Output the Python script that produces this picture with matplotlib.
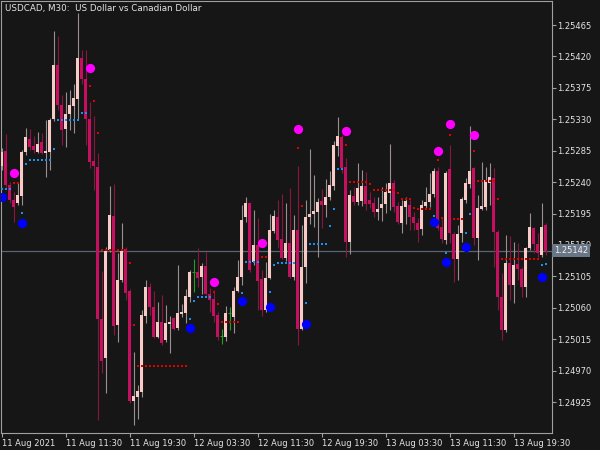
import numpy as np
import matplotlib.pyplot as plt

# USDCAD M30 bars, 11 Aug 03:30 -> 13 Aug 2021
opens = [1.25263, 1.25285, 1.25236, 1.25214, 1.25210, 1.25220, 1.25283, 1.25302, 1.25292, 1.25283,
         1.25297, 1.25282, 1.25283, 1.25330, 1.25408, 1.25350, 1.25316, 1.25337, 1.25349, 1.25359,
         1.25418, 1.25388, 1.25330, 1.25270, 1.25262, 1.25044, 1.24988, 1.25143, 1.25191, 1.25035,
         1.25100, 1.25144, 1.25084, 1.24927, 1.24932, 1.24939, 1.25048, 1.25090, 1.25061, 1.25018,
         1.25040, 1.25014, 1.25037, 1.25045, 1.25031, 1.25051, 1.25053, 1.25075, 1.25111, 1.25111,
         1.25104, 1.25120, 1.25080, 1.25073, 1.25050, 1.25020, 1.25018, 1.25053, 1.25047, 1.25084,
         1.25104, 1.25190, 1.25210, 1.25126, 1.25150, 1.25101, 1.25057, 1.25103, 1.25170, 1.25190,
         1.25158, 1.25131, 1.25153, 1.25104, 1.25171, 1.25030, 1.25118, 1.25190, 1.25194, 1.25197,
         1.25213, 1.25207, 1.25219, 1.25234, 1.25292, 1.25305, 1.25262, 1.25154, 1.25220, 1.25211,
         1.25213, 1.25234, 1.25214, 1.25210, 1.25197, 1.25203, 1.25209, 1.25224, 1.25239, 1.25206,
         1.25181, 1.25204, 1.25207, 1.25190, 1.25181, 1.25173, 1.25206, 1.25211, 1.25223, 1.25256,
         1.25176, 1.25157, 1.25259, 1.25166, 1.25130, 1.25167, 1.25214, 1.25237, 1.25260, 1.25160,
         1.25201, 1.25204, 1.25239, 1.25246, 1.25169, 1.25075, 1.25028, 1.25124, 1.25093, 1.25123,
         1.25116, 1.25090, 1.25146, 1.25174, 1.25151, 1.25136, 1.25179]
highs = [1.25289, 1.25309, 1.25240, 1.25226, 1.25240, 1.25286, 1.25317, 1.25316, 1.25306, 1.25312,
         1.25310, 1.25329, 1.25332, 1.25456, 1.25449, 1.25365, 1.25369, 1.25372, 1.25380, 1.25482,
         1.25429, 1.25429, 1.25355, 1.25335, 1.25282, 1.25113, 1.25147, 1.25234, 1.25237, 1.25138,
         1.25181, 1.25147, 1.25087, 1.24997, 1.24949, 1.25057, 1.25100, 1.25096, 1.25084, 1.25068,
         1.25078, 1.25064, 1.25048, 1.25047, 1.25121, 1.25065, 1.25087, 1.25114, 1.25130, 1.25146,
         1.25124, 1.25140, 1.25088, 1.25085, 1.25054, 1.25030, 1.25063, 1.25061, 1.25090, 1.25128,
         1.25207, 1.25219, 1.25211, 1.25200, 1.25189, 1.25114, 1.25126, 1.25194, 1.25200, 1.25214,
         1.25223, 1.25210, 1.25231, 1.25193, 1.25263, 1.25179, 1.25214, 1.25287, 1.25250, 1.25217,
         1.25230, 1.25244, 1.25256, 1.25299, 1.25333, 1.25307, 1.25275, 1.25229, 1.25233, 1.25267,
         1.25257, 1.25254, 1.25226, 1.25219, 1.25219, 1.25233, 1.25239, 1.25295, 1.25243, 1.25211,
         1.25214, 1.25219, 1.25214, 1.25197, 1.25189, 1.25214, 1.25233, 1.25253, 1.25260, 1.25262,
         1.25189, 1.25256, 1.25293, 1.25169, 1.25179, 1.25219, 1.25246, 1.25320, 1.25262, 1.25221,
         1.25269, 1.25262, 1.25267, 1.25260, 1.25171, 1.25110, 1.25164, 1.25163, 1.25154, 1.25153,
         1.25118, 1.25147, 1.25196, 1.25176, 1.25167, 1.25210, 1.25181]
lows = [1.25257, 1.25233, 1.25210, 1.25183, 1.25207, 1.25207, 1.25279, 1.25286, 1.25282, 1.25282,
        1.25280, 1.25247, 1.25257, 1.25327, 1.25343, 1.25293, 1.25290, 1.25315, 1.25310, 1.25329,
        1.25380, 1.25293, 1.25260, 1.25229, 1.24899, 1.24967, 1.24938, 1.25140, 1.25021, 1.25011,
        1.25097, 1.25071, 1.24924, 1.24892, 1.24901, 1.24932, 1.25038, 1.25050, 1.25017, 1.25017,
        1.25007, 1.25011, 1.24995, 1.25028, 1.25028, 1.25047, 1.25038, 1.25068, 1.25083, 1.25090,
        1.25080, 1.25078, 1.25054, 1.25040, 1.25014, 1.25008, 1.25012, 1.25028, 1.25024, 1.25083,
        1.25093, 1.25183, 1.25111, 1.25121, 1.25057, 1.25048, 1.25054, 1.25101, 1.25167, 1.25146,
        1.25130, 1.25127, 1.25103, 1.25100, 1.25007, 1.25028, 1.25096, 1.25180, 1.25176, 1.25133,
        1.25174, 1.25190, 1.25214, 1.25229, 1.25277, 1.25253, 1.25133, 1.25137, 1.25207, 1.25207,
        1.25206, 1.25200, 1.25203, 1.25190, 1.25186, 1.25184, 1.25196, 1.25200, 1.25197, 1.25180,
        1.25167, 1.25180, 1.25171, 1.25171, 1.25154, 1.25164, 1.25203, 1.25204, 1.25219, 1.25171,
        1.25153, 1.25151, 1.25153, 1.25097, 1.25100, 1.25154, 1.25210, 1.25231, 1.25150, 1.25128,
        1.25200, 1.25200, 1.25207, 1.25118, 1.25057, 1.25014, 1.25025, 1.25071, 1.25067, 1.25100,
        1.25075, 1.25075, 1.25143, 1.25138, 1.25133, 1.25133, 1.25136]
closes = [1.25283, 1.25236, 1.25214, 1.25204, 1.25221, 1.25283, 1.25305, 1.25290, 1.25286, 1.25295,
          1.25282, 1.25285, 1.25329, 1.25408, 1.25350, 1.25315, 1.25337, 1.25350, 1.25360, 1.25418,
          1.25388, 1.25330, 1.25269, 1.25263, 1.25044, 1.24984, 1.25141, 1.25193, 1.25034, 1.25100,
          1.25141, 1.25081, 1.24927, 1.24934, 1.24941, 1.25050, 1.25090, 1.25061, 1.25018, 1.25040,
          1.25010, 1.25038, 1.25040, 1.25030, 1.25053, 1.25054, 1.25077, 1.25111, 1.25111, 1.25103,
          1.25120, 1.25080, 1.25071, 1.25048, 1.25018, 1.25020, 1.25053, 1.25053, 1.25084, 1.25104,
          1.25186, 1.25210, 1.25114, 1.25150, 1.25098, 1.25057, 1.25103, 1.25171, 1.25191, 1.25157,
          1.25131, 1.25153, 1.25104, 1.25171, 1.25030, 1.25118, 1.25190, 1.25194, 1.25199, 1.25211,
          1.25207, 1.25219, 1.25236, 1.25293, 1.25306, 1.25260, 1.25154, 1.25221, 1.25211, 1.25231,
          1.25234, 1.25209, 1.25209, 1.25197, 1.25201, 1.25209, 1.25226, 1.25239, 1.25204, 1.25183,
          1.25206, 1.25213, 1.25190, 1.25181, 1.25171, 1.25207, 1.25211, 1.25223, 1.25256, 1.25174,
          1.25158, 1.25253, 1.25167, 1.25130, 1.25166, 1.25216, 1.25239, 1.25256, 1.25160, 1.25203,
          1.25206, 1.25243, 1.25247, 1.25169, 1.25075, 1.25028, 1.25124, 1.25093, 1.25121, 1.25116,
          1.25090, 1.25146, 1.25176, 1.25151, 1.25138, 1.25176, 1.25142]
bid = 1.25142

# big dots of the indicator (above highs / below lows)
up_bars = [3, 22, 53, 65, 74, 86, 109, 112, 118]
up_vals = [1.25253, 1.25403, 1.25097, 1.25153, 1.25316, 1.25313, 1.25285, 1.25323, 1.25307]
dn_bars = [0, 5, 47, 60, 67, 76, 108, 111, 116, 135]
dn_vals = [1.25219, 1.25181, 1.25031, 1.25070, 1.25061, 1.25037, 1.25183, 1.25126, 1.25147, 1.25104]

# dotted resistance (red) / support (blue) levels: first bar, last bar, level
res_from = [3, 22, 23, 24, 25, 32, 33, 34, 53, 54, 55, 65, 74, 75, 86, 87, 92, 93, 99, 100,
            103, 104, 109, 110, 112, 113, 118, 119, 124, 125]
res_to = [4, 22, 23, 24, 31, 32, 33, 46, 53, 54, 59, 66, 74, 75, 86, 91, 92, 98, 99, 102,
          103, 107, 109, 110, 112, 115, 118, 123, 124, 134]
res_lvl = [1.25239, 1.25378, 1.25356, 1.25310, 1.25143, 1.25124, 1.25035, 1.24977, 1.25083, 1.25065,
           1.25040, 1.25133, 1.25289, 1.25206, 1.25293, 1.25240, 1.25237, 1.25229, 1.25224, 1.25216,
           1.25203, 1.25201, 1.25272, 1.25189, 1.25307, 1.25187, 1.25285, 1.25242, 1.25216, 1.25130]
sup_from = [0, 5, 6, 7, 13, 14, 20, 47, 48, 49, 60, 61, 67, 68, 69, 76, 77, 82, 83, 84,
            108, 111, 116, 117, 135, 136]
sup_to = [2, 5, 6, 12, 13, 19, 21, 47, 48, 52, 60, 64, 67, 68, 73, 76, 81, 82, 83, 85,
          108, 111, 116, 117, 135, 136]
sup_lvl = [1.25230, 1.25196, 1.25266, 1.25272, 1.25287, 1.25329, 1.25339, 1.25044, 1.25070, 1.25075,
           1.25081, 1.25126, 1.25083, 1.25121, 1.25124, 1.25067, 1.25151, 1.25177, 1.25201, 1.25259,
           1.25191, 1.25138, 1.25167, 1.25194, 1.25121, 1.25123]

xtick_bars = [0, 16, 32, 48, 64, 80, 96, 112, 128]
xtick_labels = ['11 Aug 2021', '11 Aug 11:30', '11 Aug 19:30', '12 Aug 03:30', '12 Aug 11:30',
                '12 Aug 19:30', '13 Aug 03:30', '13 Aug 11:30', '13 Aug 19:30']
yticks = [1.24925, 1.24970, 1.25015, 1.25060, 1.25105, 1.25150, 1.25195, 1.25240,
          1.25285, 1.25330, 1.25375, 1.25420, 1.25465]

bg = '#161616'
bull_body, bull_wick = '#f9cbc6', '#9a8f8c'
bear_body, bear_wick = '#c4105e', '#8a1640'
doji_col = '#1fa01f'
txt = '#e4e4e4'

o = np.array(opens)
h = np.array(highs)
l = np.array(lows)
c = np.array(closes)
x = np.arange(len(o))
up = c > o
dn = c < o
dj = c == o

fig = plt.figure(figsize=(6, 4.5), dpi=100, facecolor=bg)
ax = fig.add_axes([1 / 600, 17 / 450, 551 / 600, 432 / 450], facecolor=bg)

ax.axhline(bid, color='#5a6472', lw=0.9, zorder=1)

# wicks
ax.vlines(x[up], l[up], h[up], color=bull_wick, lw=0.8, zorder=2)
ax.vlines(x[dn], l[dn], h[dn], color=bear_wick, lw=0.8, zorder=2)
ax.vlines(x[dj], l[dj], h[dj], color=doji_col, lw=0.8, zorder=2)
ax.hlines(c[dj], x[dj] - 0.38, x[dj] + 0.38, color=doji_col, lw=0.8, zorder=2)

# bodies
body = np.maximum(np.abs(c - o), 1.3e-5)
bottom = np.minimum(o, c)
ax.bar(x[up], body[up], bottom=bottom[up], width=0.75, color=bull_body, zorder=3)
ax.bar(x[dn], body[dn], bottom=bottom[dn], width=0.75, color=bear_body, zorder=3)

# dotted levels
for a, b, v in zip(res_from, res_to, res_lvl):
    xs = np.arange(a, b + 1)
    ax.scatter(xs, np.full(len(xs), v), marker='s', s=4.5, color='#e00000', linewidths=0, zorder=4)
for a, b, v in zip(sup_from, sup_to, sup_lvl):
    xs = np.arange(a, b + 1)
    ax.scatter(xs, np.full(len(xs), v), marker='s', s=4.5, color='#1e8ef0', linewidths=0, zorder=4)

ax.scatter(up_bars, up_vals, s=44, color='#ff00ff', linewidths=0, zorder=5)
ax.scatter(dn_bars, dn_vals, s=44, color='#0000ff', linewidths=0, zorder=5)

ax.set_xlim(-0.125, 137.625)
ax.set_ylim(1.248807, 1.254994)

ax.set_xticks(xtick_bars)
ax.set_xticklabels(xtick_labels)
for lab in ax.get_xticklabels():
    lab.set_ha('left')
ax.yaxis.tick_right()
ax.set_yticks(yticks)
ax.set_yticklabels(['%.5f' % v for v in yticks])
ax.tick_params(axis='x', colors='#a0a0a0', labelcolor=txt, length=3, width=0.8, pad=1.5, labelsize=6)
ax.tick_params(axis='y', colors='#a0a0a0', labelcolor=txt, length=3, width=0.8, pad=1, labelsize=6)
for sp in ax.spines.values():
    sp.set_color('#a0a0a0')
    sp.set_linewidth(0.8)

# current price tag sits over the 1.25150 label, as in the terminal
ax.text(1.0 + 2 / 551, bid, '1.25142', transform=ax.get_yaxis_transform(), ha='left', va='center',
        fontsize=6, color='#f2f2f2', clip_on=False, zorder=6,
        bbox=dict(boxstyle='square,pad=0.25', fc='#687686', ec='none'))

fig.text(5 / 600, 1 - 8 / 450, 'USDCAD, M30:  US Dollar vs Canadian Dollar', fontsize=6.3,
         color=txt, ha='left', va='center')

fig.savefig('out.png', dpi=100, facecolor=bg)
